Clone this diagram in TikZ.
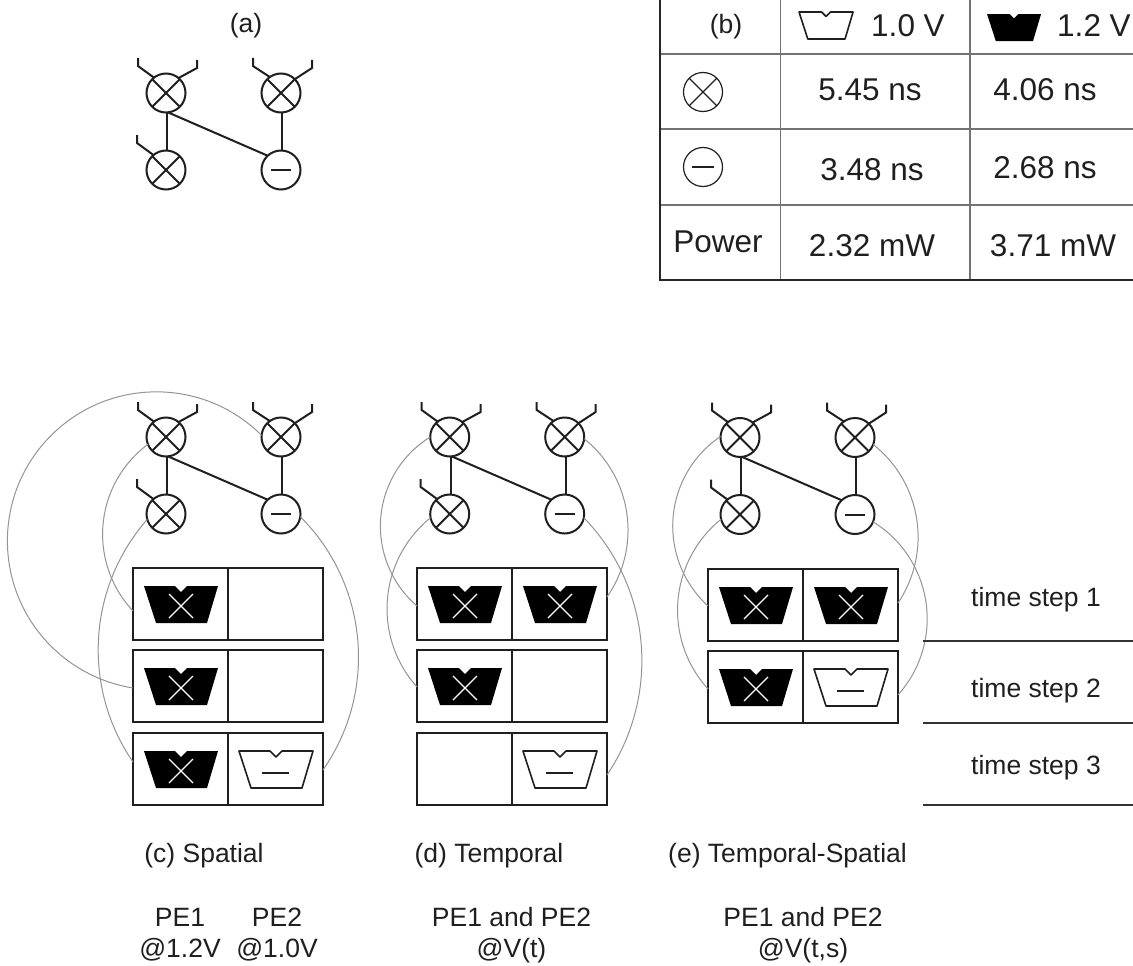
\documentclass[tikz,border=0pt]{standalone}
\usepackage{fontspec}
\setmainfont{Liberation Sans}
\usetikzlibrary{calc}
\tikzset{
  wire/.style={line width=2pt,draw=black!88},
  mulop/.style={circle,draw=black!88,line width=2pt,minimum size=39pt,inner sep=0pt,outer sep=0pt,
    path picture={\draw[line width=2pt,draw=black!88] (path picture bounding box.north west)--(path picture bounding box.south east)
      (path picture bounding box.north east)--(path picture bounding box.south west);}},
  subop/.style={circle,draw=black!88,line width=2pt,minimum size=39pt,inner sep=0pt,outer sep=0pt,
    path picture={\draw[line width=2pt,draw=black!88] ([xshift=-10pt]path picture bounding box.center)--([xshift=10pt]path picture bounding box.center);}},
  tabmul/.style={mulop,line width=1.2pt,
    path picture={\draw[line width=1.2pt,draw=black!88] (path picture bounding box.north west)--(path picture bounding box.south east)
      (path picture bounding box.north east)--(path picture bounding box.south west);}},
  tabsub/.style={subop,line width=1.2pt,
    path picture={\draw[line width=1.2pt,draw=black!88] ([xshift=-11pt]path picture bounding box.center)--([xshift=11pt]path picture bounding box.center);}},
  cellbox/.style={rectangle,draw=black!88,line width=2pt,minimum width=95pt,minimum height=72pt,inner sep=0pt,outer sep=0pt,anchor=north west},
  link/.style={line width=1pt,draw=black!42},
  txt/.style={font=\fontsize{26.5}{31}\selectfont,anchor=base,inner sep=0pt,text=black!88},
  tabtxt/.style={font=\fontsize{31.5}{38}\selectfont,anchor=base,inner sep=0pt,text=black!88},
  rule/.style={line width=2pt,draw=black!80},
  gridline/.style={line width=1.2pt,draw=black!55},
  edge/.style={line width=2pt,draw=black!85},
}
\newcommand\aluPath{(11,18) -- (42,18) -- (48,24) -- (54,18) -- (85,18) -- (74,55) -- (23,55) -- cycle}
% dark multiplier unit in the cell #1
\newcommand\aluMul[1]{\begin{scope}[shift={(#1.north west)}]
  \fill[black,line join=round] \aluPath;
  \draw[white,line width=1.2pt] (36,26)--(60,50) (60,26)--(36,50);
\end{scope}}
% light subtractor unit in the cell #1
\newcommand\aluSub[1]{\begin{scope}[shift={(#1.north west)}]
  \draw[black!88,line width=1.6pt,line join=round] \aluPath;
  \draw[black!88,line width=1.6pt] (34,40)--(61,40);
\end{scope}}
% data flow graph: prefix, x, y of the top left operator
\newcommand\dfg[3]{
  \node[mulop] (#1tl) at (#2,#3) {};
  \node[mulop] (#1tr) at ({#2+115},#3) {};
  \node[mulop] (#1bl) at (#2,{#3+77}) {};
  \node[subop] (#1br) at ({#2+115},{#3+77}) {};
  \draw[wire] (#1tl.-86) -- (#1bl.86);
  \draw[wire] (#1tr.-87) -- (#1br.87);
  \draw[wire] (#1tl.-84) -- (#1br.133);
  \draw[wire] (#1tl.128) -- ([shift={(-28,-27)}]#1tl.center) -- ++(0,-8);
  \draw[wire] (#1tl.50) -- ([shift={(31,-25)}]#1tl.center) -- ++(0,-8);
  \draw[wire] (#1tr.125) -- ([shift={(-28,-27)}]#1tr.center) -- ++(0,-8);
  \draw[wire] (#1tr.45) -- ([shift={(31,-25)}]#1tr.center) -- ++(0,-8);
  \draw[wire] (#1bl.130) -- ([shift={(-29,-27)}]#1bl.center) -- ++(0,-8);
}
% circular arc: start, end, radius, sense (1 anticlockwise, -1 clockwise), larger arc (0 or 1)
\newcommand\garc[5]{\draw[link] let \p1=(#1),\p2=(#2),
    \n1={atan2(\y2-\y1,\x2-\x1)},
    \n2={2*asin(min(veclen(\x2-\x1,\y2-\y1)/(2*#3),1))},
    \n3={#5*360+(1-2*#5)*\n2},
    \n4={\n1-(#4)*90-(#4)*\n3/2}
  in (\p1) arc[start angle=\n4,delta angle={(#4)*\n3},radius=#3pt];}
\begin{document}
\begin{tikzpicture}[x=1pt,y=-1pt]
\useasboundingbox (0,0) rectangle (1133,966);
\fill[white] (0,0) rectangle (1133,966);

% (a)
\node[txt] (labela) at (246,33) {(a)};
\dfg{a}{166}{93}

% (b) table
\draw[gridline] (780.5,0) -- (780.5,280) (970,0) -- (970,280);
\draw[gridline] (660,54) -- (1133,54) (660,129) -- (1133,129) (660,205) -- (1133,205);
\draw[edge] (660,0) -- (660,280) -- (1133,280);
\node[txt] (labelb) at (726,33.5) {(b)};
\begin{scope}[shift={(791,-1.1)},scale=0.73]
  \draw[black!88,line width=1.6pt,line join=round] \aluPath;
\end{scope}
\node[tabtxt] (hlow) at (908,36.5) {1.0 V};
\begin{scope}[shift={(979,0.9)},scale=0.73]
  \fill[black,line join=round] \aluPath;
\end{scope}
\node[tabtxt] (hhigh) at (1094,36.5) {1.2 V};
\node[tabmul] (tmul) at (703,92) {};
\node[tabsub] (tsub) at (703,167) {};
\node[tabtxt] (m10) at (870,100) {5.45 ns};
\node[tabtxt] (m12) at (1045,100) {4.06 ns};
\node[tabtxt] (s10) at (872,180) {3.48 ns};
\node[tabtxt] (s12) at (1045,178) {2.68 ns};
\node[tabtxt] (pw) at (718,252) {Power};
\node[tabtxt] (p10) at (872,256) {2.32 mW};
\node[tabtxt] (p12) at (1053,256) {3.71 mW};

% (c)
\dfg{c}{166}{437}
\node[cellbox] (c11) at (133,568) {};
\node[cellbox] (c12) at (228,568) {};
\node[cellbox] (c21) at (133,650) {};
\node[cellbox] (c22) at (228,650) {};
\node[cellbox] (c31) at (133,733) {};
\node[cellbox] (c32) at (228,733) {};
\aluMul{c11}\aluMul{c21}\aluMul{c31}\aluSub{c32}
\garc{ctr.175}{[yshift=-2pt]c21.west}{149}{1}{1}
\garc{ctl.202}{[yshift=-7pt]c11.west}{112}{1}{0}
\garc{cbl.196}{[yshift=7pt]c31.west}{198}{1}{0}
\garc{cbr.-8}{[yshift=-1pt]c32.east}{198}{-1}{0}

% (d)
\dfg{d}{449.7}{437}
\node[cellbox] (d11) at (417,568) {};
\node[cellbox] (d12) at (512,568) {};
\node[cellbox] (d21) at (417,650) {};
\node[cellbox] (d22) at (512,650) {};
\node[cellbox] (d31) at (417,733) {};
\node[cellbox] (d32) at (512,733) {};
\aluMul{d11}\aluMul{d12}\aluMul{d21}\aluSub{d32}
\garc{dtl.180}{[yshift=-2pt]d11.west}{105}{1}{0}
\garc{dbl.191}{[yshift=-1pt]d21.west}{117}{1}{0}
\garc{dtr.-5}{[yshift=7pt]d12.east}{117}{-1}{0}
\garc{dbr.-11}{[yshift=-6pt]d32.east}{205}{-1}{0}

% (e)
\dfg{e}{740}{437.5}
\node[cellbox] (e11) at (708,569) {};
\node[cellbox] (e12) at (803,569) {};
\node[cellbox] (e21) at (708,651) {};
\node[cellbox] (e22) at (803,651) {};
\aluMul{e11}\aluMul{e12}\aluMul{e21}\aluSub{e22}
\garc{etl.177}{[yshift=-1pt]e11.west}{108}{1}{0}
\garc{ebl.194}{[yshift=-2pt]e21.west}{117}{1}{0}
\garc{etr.-21}{[yshift=2pt]e12.east}{118}{-1}{0}
\garc{ebr.-22}{[yshift=-8pt]e22.east}{114}{-1}{0}

% time steps
\coordinate (r1a) at (923,641); \coordinate (r1b) at (1133,641);
\coordinate (r2a) at (923,723); \coordinate (r2b) at (1133,723);
\coordinate (r3a) at (923,805); \coordinate (r3b) at (1133,805);
\draw[rule] (r1a) -- (r1b);
\draw[rule] (r2a) -- (r2b);
\draw[rule] (r3a) -- (r3b);
\node[txt] (ts1) at (1036,606) {time step 1};
\node[txt] (ts2) at (1036,697) {time step 2};
\node[txt] (ts3) at (1036,774) {time step 3};

% captions
\node[txt] (capc) at (204,862) {(c) Spatial};
\node[txt] (capd) at (489,862) {(d) Temporal};
\node[txt] (cape) at (787.5,862) {(e) Temporal-Spatial};
\node[txt] (pe1) at (180,926) {PE1};
\node[txt] (pe2) at (277,926) {PE2};
\node[txt] (v12) at (180,957) {@1.2V};
\node[txt] (v10) at (277,957) {@1.0V};
\node[txt] (dpe) at (511.5,926) {PE1 and PE2};
\node[txt] (dv) at (511.5,957) {@V(t)};
\node[txt] (epe) at (803,926) {PE1 and PE2};
\node[txt] (ev) at (803,957) {@V(t,s)};
\end{tikzpicture}
\end{document}
